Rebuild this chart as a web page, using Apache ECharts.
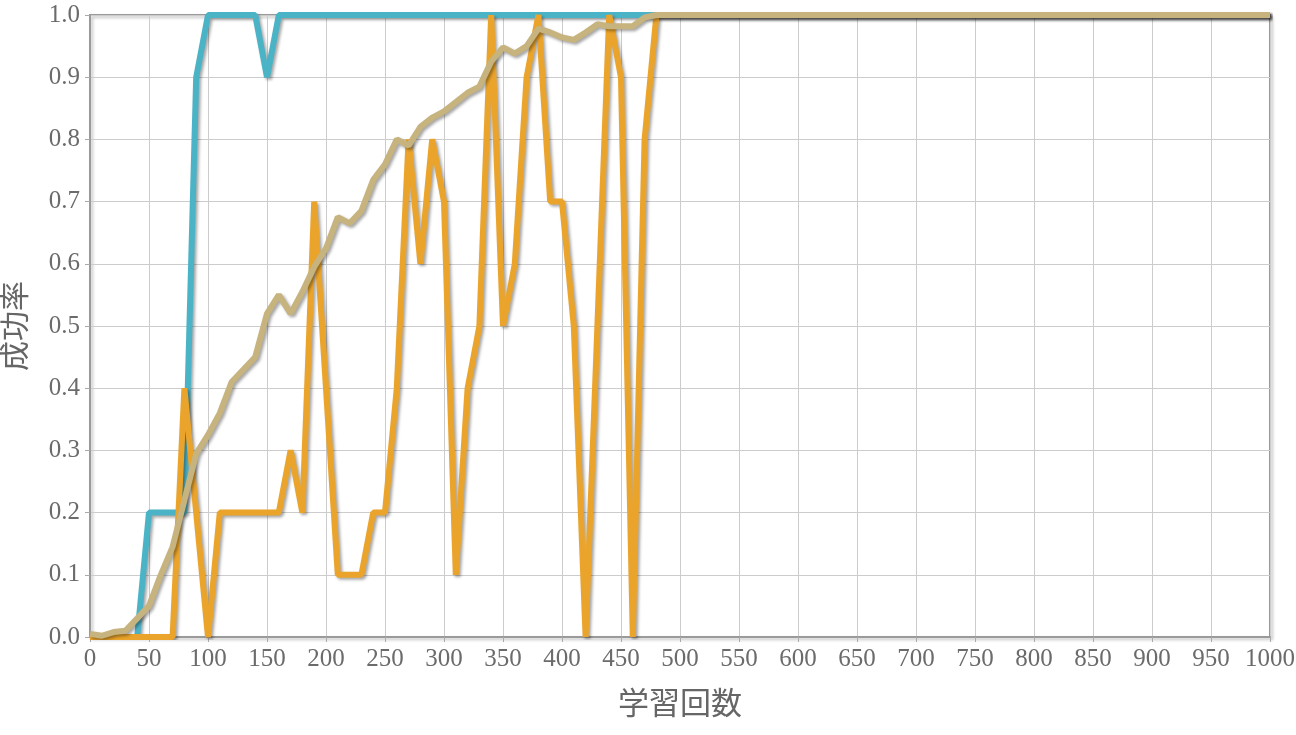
<!DOCTYPE html>
<html>
<head>
<meta charset="utf-8">
<script src="https://cdn.jsdelivr.net/npm/echarts@6/dist/echarts.min.js"></script>
<style>html,body{margin:0;padding:0;background:#fff;}#c{width:1296px;height:735px;}</style>
</head>
<body>
<div id="c"></div>
<script>
const steps = [0,10,20,30,40,50,60,70,80,90,100,110,120,130,140,150,160,170,180,190,200,210,220,230,240,250,260,270,280,290,300,310,320,330,340,350,360,370,380,390,400,410,420,430,440,450,460,470,480,490,500,510,520,530,540,550,560,570,580,590,600,610,620,630,640,650,660,670,680,690,700,710,720,730,740,750,760,770,780,790,800,810,820,830,840,850,860,870,880,890,900,910,920,930,940,950,960,970,980,990,1000];
const blueRate = [0,0,0,0,0,0.2,0.2,0.2,0.2,0.9,1,1,1,1,1,0.9,1,1,1,1,1,1,1,1,1,1,1,1,1,1,1,1,1,1,1,1,1,1,1,1,1,1,1,1,1,1,1,1,1,1,1,1,1,1,1,1,1,1,1,1,1,1,1,1,1,1,1,1,1,1,1,1,1,1,1,1,1,1,1,1,1,1,1,1,1,1,1,1,1,1,1,1,1,1,1,1,1,1,1,1,1];
const orangeRate = [0,0,0,0,0,0,0,0,0.4,0.2,0,0.2,0.2,0.2,0.2,0.2,0.2,0.3,0.2,0.7,0.4,0.1,0.1,0.1,0.2,0.2,0.4,0.8,0.6,0.8,0.7,0.1,0.4,0.5,1,0.5,0.6,0.9,1,0.7,0.7,0.5,0,0.5,1,0.9,0,0.8,1,1,1,1,1,1,1,1,1,1,1,1,1,1,1,1,1,1,1,1,1,1,1,1,1,1,1,1,1,1,1,1,1,1,1,1,1,1,1,1,1,1,1,1,1,1,1,1,1,1,1,1,1];
const avgRate = [0.005,0.002,0.008,0.01,0.03,0.05,0.1,0.145,0.22,0.295,0.325,0.36,0.41,0.43,0.45,0.52,0.55,0.52,0.555,0.595,0.625,0.675,0.665,0.685,0.735,0.76,0.8,0.79,0.82,0.835,0.845,0.86,0.875,0.885,0.925,0.948,0.938,0.95,0.978,0.972,0.964,0.96,0.972,0.985,0.982,0.982,0.982,0.996,1,1,1,1,1,1,1,1,1,1,1,1,1,1,1,1,1,1,1,1,1,1,1,1,1,1,1,1,1,1,1,1,1,1,1,1,1,1,1,1,1,1,1,1,1,1,1,1,1,1,1,1,1,1,1];
const xName = '学習回数';
const yName = '成功率';

function pairs(vals){ return steps.map((s,i)=>[s, vals[i]]); }
const shadow = {shadowColor:'rgba(0,0,0,0.35)', shadowBlur:3, shadowOffsetX:2, shadowOffsetY:2};
function line(vals, color){
  return {type:'line', data:pairs(vals), showSymbol:false, symbol:'none', animation:false,
    lineStyle:Object.assign({color:color, width:6}, shadow), itemStyle:{color:color}};
}
const chart = echarts.init(document.getElementById('c'), null, {renderer:'canvas'});
const serif = '"Liberation Serif", "Times New Roman", "DejaVu Serif", serif';
const labelFont = {fontFamily:serif, fontSize:25, color:'#6b6b6b'};
chart.setOption({
  backgroundColor:'#fff',
  animation:false,
  grid:{left:90, right:26, top:15, bottom:98, show:true, borderColor:'#9a9a9a', borderWidth:2,
    outerBoundsMode:'none', containLabel:false,
    shadowColor:'rgba(0,0,0,0.25)', shadowBlur:3, shadowOffsetX:2, shadowOffsetY:2},
  xAxis:{type:'value', min:0, max:1000, interval:50,
    name:xName, nameLocation:'middle', nameGap:50,
    nameTextStyle:{fontFamily:'"Noto Sans CJK JP"', fontSize:31, color:'#666'},
    axisLine:{show:true, lineStyle:{color:'#9a9a9a', width:2}},
    axisTick:{show:true, length:5, lineStyle:{color:'#aaa'}},
    axisLabel:Object.assign({margin:10, formatter:v=>String(v), hideOverlap:false}, labelFont),
    splitLine:{show:true, lineStyle:{color:'#cccccc', width:1}}},
  yAxis:{type:'value', min:0, max:1, interval:0.1,
    name:yName, nameLocation:'middle', nameGap:61,
    nameTextStyle:{fontFamily:'"Noto Sans CJK JP"', fontSize:30, color:'#666'},
    axisLine:{show:true, lineStyle:{color:'#9a9a9a', width:2}},
    axisTick:{show:true, length:5, lineStyle:{color:'#aaa'}},
    axisLabel:Object.assign({margin:10, formatter:v=>v.toFixed(1)}, labelFont),
    splitLine:{show:true, lineStyle:{color:'#cccccc', width:1}}},
  series:[line(blueRate,'#4bb3c6'), line(orangeRate,'#eba42b'), line(avgRate,'#c6b37e')]
});
</script>
</body>
</html>
